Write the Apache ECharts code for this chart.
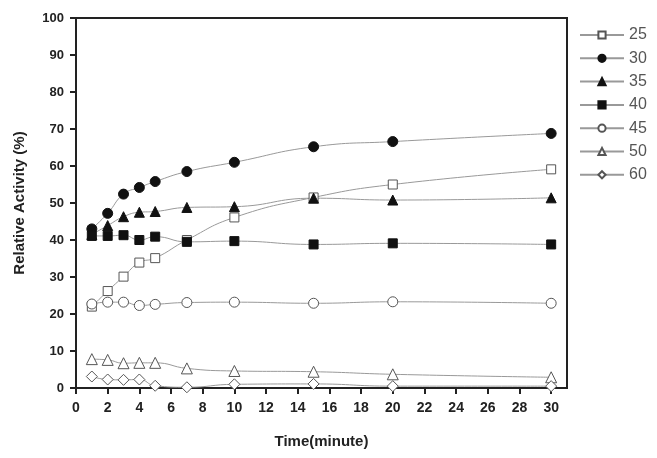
<!DOCTYPE html>
<html>
<head>
<meta charset="utf-8">
<script src="https://cdn.jsdelivr.net/npm/echarts@6/dist/echarts.min.js"></script>
<style>
  html, body { margin: 0; padding: 0; background: #fff; }
  #chart { width: 657px; height: 458px; }
</style>
</head>
<body>
<div id="chart"></div>
<script>
// 采样时间 (minute)
const times = [1, 2, 3, 4, 5, 7, 10, 15, 20, 30];
const xTicks = [0, 2, 4, 6, 8, 10, 12, 14, 16, 18, 20, 22, 24, 26, 28, 30];

// 各温度下的相对活性 (%)
const temp25 = [22.0, 26.2, 30.1, 33.9, 35.1, 40.0, 46.1, 51.5, 55.0, 59.1];
const temp30 = [43.0, 47.2, 52.4, 54.2, 55.8, 58.5, 61.0, 65.2, 66.6, 68.8];
const temp35 = [41.5, 43.9, 46.3, 47.5, 47.7, 48.8, 49.0, 51.3, 50.8, 51.4];
const temp40 = [41.1, 41.1, 41.3, 40.0, 40.9, 39.5, 39.7, 38.8, 39.1, 38.8];
const temp45 = [22.7, 23.2, 23.2, 22.3, 22.6, 23.1, 23.2, 22.9, 23.3, 22.9];
const temp50 = [7.8, 7.6, 6.7, 6.8, 6.8, 5.3, 4.6, 4.4, 3.7, 2.9];
const temp60 = [3.1, 2.3, 2.2, 2.3, 0.6, 0.2, 1.0, 1.1, 0.5, 0.5];

const chart = echarts.init(document.getElementById('chart'));

const pair = vals => times.map((t, i) => [t, vals[i]]);

const makeSeries = (name, vals, symbol, filled, size) => ({
  name,
  type: 'line',
  smooth: true,
  symbol,
  symbolSize: size,
  showAllSymbol: true,
  lineStyle: { width: 1, color: '#999' },
  itemStyle: {
    color: filled ? '#111' : '#fff',
    borderColor: filled ? '#111' : '#555',
    borderWidth: 1
  },
  emphasis: { disabled: true },
  data: pair(vals)
});

const option = {
  animation: false,
  textStyle: { fontFamily: 'Liberation Sans, Arial, sans-serif' },
  grid: {
    left: 76, right: 90, top: 18, bottom: 70,
    show: true, borderColor: '#222', borderWidth: 2
  },
  legend: {
    orient: 'vertical',
    left: 574,
    top: 22,
    itemWidth: 44,
    itemHeight: 9,
    itemGap: 7.3,
    itemTextGap: 6,
    textStyle: { fontSize: 16, color: '#555' },
    data: ['25', '30', '35', '40', '45', '50', '60']
  },
  xAxis: {
    type: 'value',
    min: 0,
    max: 31,
    name: 'Time(minute)',
    nameLocation: 'middle',
    nameGap: 46,
    nameTextStyle: { fontSize: 15, fontWeight: 'bold', color: '#222' },
    axisLine: { onZero: false, lineStyle: { color: '#222', width: 2 } },
    axisTick: { customValues: xTicks, length: 6, lineStyle: { color: '#222', width: 2 } },
    axisLabel: { customValues: xTicks, fontSize: 14, fontWeight: 'bold', color: '#222', margin: 13 },
    splitLine: { show: false }
  },
  yAxis: {
    type: 'value',
    min: 0,
    max: 100,
    interval: 10,
    name: 'Relative Activity (%)',
    nameLocation: 'middle',
    nameGap: 49,
    nameTextStyle: { fontSize: 15, fontWeight: 'bold', color: '#222' },
    axisLine: { show: true, lineStyle: { color: '#222', width: 2 } },
    axisTick: { show: true, length: 6, lineStyle: { color: '#222', width: 2 } },
    axisLabel: { fontSize: 13, fontWeight: 'bold', color: '#222', margin: 12 },
    splitLine: { show: false }
  },
  series: [
    makeSeries('25', temp25, 'rect', false, 9),
    makeSeries('30', temp30, 'circle', true, 10),
    makeSeries('35', temp35, 'triangle', true, 10),
    makeSeries('40', temp40, 'rect', true, 9),
    makeSeries('45', temp45, 'circle', false, 10),
    makeSeries('50', temp50, 'triangle', false, 11),
    makeSeries('60', temp60, 'diamond', false, 11)
  ]
};

chart.setOption(option);
</script>
</body>
</html>
